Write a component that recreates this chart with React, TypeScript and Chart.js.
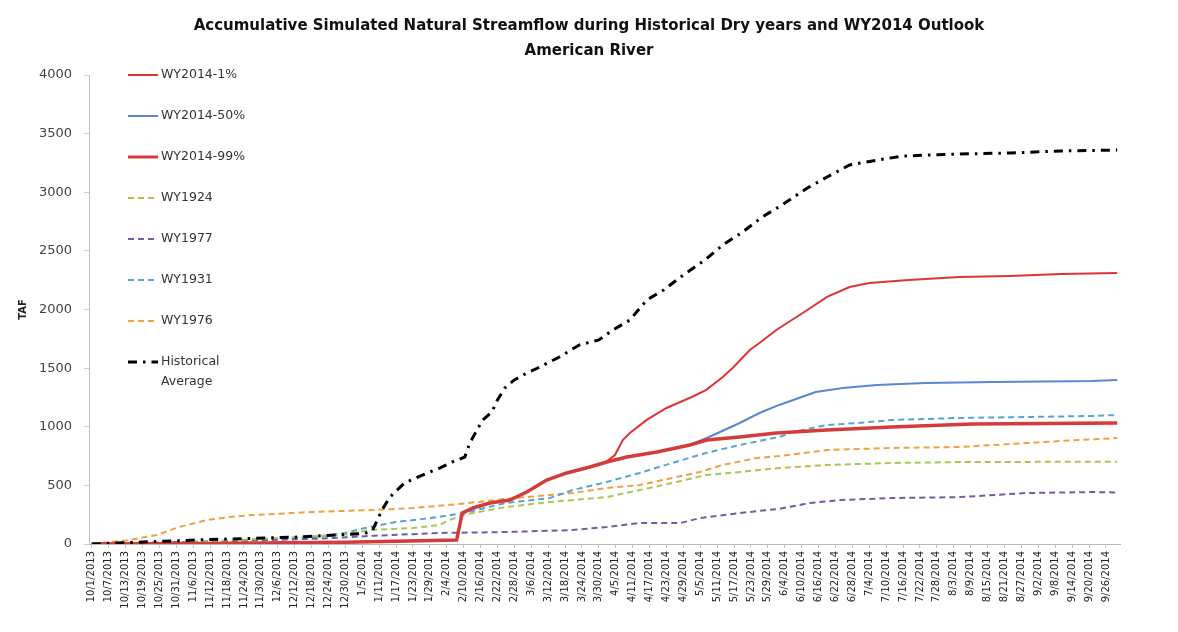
import React, { useEffect, useRef } from "react";
import { Chart, registerables } from "chart.js";

Chart.register(...registerables);

// Tick labels (every 6 days, day index = position * 6)
const DATE_LABELS = [
  "10/1/2013","10/7/2013","10/13/2013","10/19/2013","10/25/2013","10/31/2013",
  "11/6/2013","11/12/2013","11/18/2013","11/24/2013","11/30/2013",
  "12/6/2013","12/12/2013","12/18/2013","12/24/2013","12/30/2013",
  "1/5/2014","1/11/2014","1/17/2014","1/23/2014","1/29/2014",
  "2/4/2014","2/10/2014","2/16/2014","2/22/2014","2/28/2014",
  "3/6/2014","3/12/2014","3/18/2014","3/24/2014","3/30/2014",
  "4/5/2014","4/11/2014","4/17/2014","4/23/2014","4/29/2014",
  "5/5/2014","5/11/2014","5/17/2014","5/23/2014","5/29/2014",
  "6/4/2014","6/10/2014","6/16/2014","6/22/2014","6/28/2014",
  "7/4/2014","7/10/2014","7/16/2014","7/22/2014","7/28/2014",
  "8/3/2014","8/9/2014","8/15/2014","8/21/2014","8/27/2014",
  "9/2/2014","9/8/2014","9/14/2014","9/20/2014","9/26/2014",
];
const LABEL_STEP_DAYS = 6;

const Y_TICKS = [0, 500, 1000, 1500, 2000, 2500, 3000, 3500, 4000];

// Series: [day of water year (0 = 10/1/2013), accumulated TAF]
const WY2014_1: [number, number][] = [
  [0,0],[40,5],[90,15],[129.5,34],[131.5,264],[135.3,307],[141.3,350],[148.4,375],[154.4,443],
  [161.5,546],[168.6,606],[176.8,657],[182,690],[185.7,759],[188.5,887],[191,947],[197,1058],
  [204,1160],[213,1254],[218,1313],[224,1424],[227.5,1501],[233.6,1655],[237,1714],[243,1825],
  [254,1996],[261,2107],[269,2192],[276,2226],[290,2252],[308,2277],[326,2286],[344,2303],[364,2311],
];
const WY2014_50: [number, number][] = [
  [0,0],[40,5],[90,15],[129.5,34],[131.5,264],[135.3,307],[141.3,350],[148.4,375],[154.4,443],
  [161.5,546],[168.6,606],[176.8,657],[182.8,699],[189.9,742],[200.6,785],[212.3,844],[218.3,904],
  [230,1032],[237,1117],[244,1186],[249,1228],[257,1296],[266.6,1330],[278.7,1356],[296,1373],
  [320,1382],[355,1390],[364,1399],
];
const WY2014_99: [number, number][] = [
  [0,0],[40,5],[90,15],[129.5,34],[131.5,264],[135.3,307],[141.3,350],[148.4,375],[154.4,443],
  [161.5,546],[168.6,606],[176.8,657],[182.8,699],[189.9,742],[200.6,785],[212.3,844],[218.3,887],
  [230,913],[243,947],[261,972],[284,998],[312.7,1023],[364,1032],
];
const WY1924: [number, number][] = [
  [0,0],[30,10],[56,40],[90,80],[99,120],[114,136],[123.5,162],[127,205],[133,255],[147,315],
  [162.6,358],[182.8,400],[194.5,460],[206,520],[218,588],[230,614],[237,631],[244,648],[261,674],
  [284,691],[308,699],[364,702],
];
const WY1977: [number, number][] = [
  [0,0],[40,20],[80,45],[100,70],[123.5,94],[147,102],[170.7,119],[182.8,145],[194.5,179],[209,179],
  [216,222],[230,264],[244,300],[255,350],[266,375],[284,392],[308,400],[332,435],[355,443],[364,440],
];
const WY1931: [number, number][] = [
  [0,0],[56,30],[80,60],[90,94],[97,136],[108,188],[120,220],[132,264],[147,350],[162.6,392],
  [170.7,460],[182.8,529],[194.5,606],[206,691],[218,776],[230,844],[244,913],[249,955],[261,1015],
  [272,1032],[284,1058],[308,1075],[332,1083],[355,1092],[364,1100],
];
const WY1976: [number, number][] = [
  [0,0],[13.5,34],[23,77],[31,145],[41,205],[49,230],[57,247],[78,273],[100,290],[114,307],
  [130,340],[147,385],[162.6,418],[170.7,435],[182.8,478],[194.5,503],[206,563],[215.8,614],
  [224,674],[236,733],[244,750],[261,802],[284,819],[308,827],[332,861],[350,887],[364,904],
];
const HIST_AVG: [number, number][] = [
  [0,0],[38,35],[74,60],[97,90],[99.7,119],[103,290],[105.8,400],[111,520],[119,605],[123.5,648],
  [128,700],[132.4,742],[134.2,861],[136.7,972],[138.8,1058],[142,1126],[144,1228],[146.6,1330],
  [150,1399],[154.4,1458],[158.3,1501],[166,1595],[173,1697],[180,1740],[185,1825],[191,1910],
  [197,2081],[203,2166],[209,2277],[217.6,2422],[224,2550],[231,2661],[238,2789],[245,2891],
  [254,3036],[261,3130],[269,3232],[279,3275],[288,3309],[298,3318],[308,3326],[326,3335],
  [344,3352],[364,3360],
];

const SERIES_NAMES: (string | string[])[] = [
  "WY2014-1%", "WY2014-50%", "WY2014-99%", "WY1924", "WY1977", "WY1931", "WY1976",
  ["Historical", "Average"],
];

const FONT = "'DejaVu Sans', sans-serif";

const toPts = (arr: [number, number][]) => arr.map(([x, y]) => ({ x, y }));

const insideLegend = {
  id: "insideLegend",
  afterDraw(chart: any) {
    const { ctx, chartArea } = chart;
    const ds = chart.data.datasets;
    ctx.save();
    ds.forEach((d: any, i: number) => {
      const y = chartArea.top + i * 41;
      const x0 = chartArea.left + 39;
      const x1 = chartArea.left + 69;
      ctx.beginPath();
      ctx.strokeStyle = d.borderColor;
      ctx.lineWidth = Math.min(d.borderWidth, 3);
      ctx.setLineDash(d.borderDash || []);
      ctx.moveTo(x0, y);
      ctx.lineTo(x1, y);
      ctx.stroke();
      ctx.setLineDash([]);
      ctx.fillStyle = "#333";
      ctx.font = `12.5px ${FONT}`;
      ctx.textBaseline = "middle";
      ctx.textAlign = "left";
      const nm = SERIES_NAMES[i];
      const names = Array.isArray(nm) ? nm : [nm];
      names.forEach((t: string, k: number) => ctx.fillText(t, x1 + 3, y + k * 20));
    });
    ctx.restore();
  },
};

export default function App() {
  const ref = useRef<HTMLCanvasElement | null>(null);
  useEffect(() => {
    if (!ref.current) return;
    const dashed = [6, 4];
    const chart = new Chart(ref.current, {
      type: "line",
      data: {
        datasets: [
          { label: "WY2014-1%", data: toPts(WY2014_1), borderColor: "#e03434", borderWidth: 2, order: 2 },
          { label: "WY2014-50%", data: toPts(WY2014_50), borderColor: "#5a86d4", borderWidth: 2, order: 3 },
          { label: "WY2014-99%", data: toPts(WY2014_99), borderColor: "#d43c3c", borderWidth: 3.5, order: 1 },
          { label: "WY1924", data: toPts(WY1924), borderColor: "#a6c850", borderWidth: 2, borderDash: dashed, order: 4 },
          { label: "WY1977", data: toPts(WY1977), borderColor: "#6e5ea6", borderWidth: 2, borderDash: dashed, order: 5 },
          { label: "WY1931", data: toPts(WY1931), borderColor: "#56a4d0", borderWidth: 2, borderDash: dashed, order: 6 },
          { label: "WY1976", data: toPts(WY1976), borderColor: "#f0a040", borderWidth: 2, borderDash: dashed, order: 7 },
          { label: "Historical Average", data: toPts(HIST_AVG), borderColor: "#000000", borderWidth: 3, borderDash: [9, 6, 2.5, 6], order: 0 },
        ] as any,
      },
      options: {
        animation: false,
        responsive: false,
        devicePixelRatio: 1,
        layout: { padding: { left: 0, right: 0, top: 0, bottom: 0 } },
        elements: { point: { radius: 0 }, line: { tension: 0, fill: false } },
        plugins: {
          legend: { display: false },
          tooltip: { enabled: false },
          title: {
            display: true,
            text: [
              "Accumulative Simulated Natural Streamflow during Historical Dry years and WY2014 Outlook",
              "American River",
            ],
            color: "#111",
            font: { family: FONT, size: 15, weight: "bold", lineHeight: 25 / 15 },
            padding: { top: 14, bottom: 11 },
          },
        },
        scales: {
          x: {
            type: "linear",
            min: -1,
            max: 365,
            afterBuildTicks: (axis: any) => {
              axis.ticks = DATE_LABELS.map((_, i) => ({ value: i * LABEL_STEP_DAYS }));
            },
            afterFit: (s: any) => { s.height = 88; },
            ticks: {
              autoSkip: false,
              maxRotation: 90,
              minRotation: 90,
              padding: 3,
              color: "#222",
              font: { family: FONT, size: 10 },
              callback: (_v: any, i: number) => DATE_LABELS[i],
            },
            grid: { display: true, drawOnChartArea: false, tickLength: 4, color: "#c8c8c8" },
            border: { display: true, color: "#b8b8b8" },
          },
          y: {
            type: "linear",
            min: 0,
            max: 4000,
            afterBuildTicks: (axis: any) => {
              axis.ticks = Y_TICKS.map((v) => ({ value: v }));
            },
            afterFit: (s: any) => { s.width = 89; },
            ticks: {
              padding: 12,
              color: "#444",
              font: { family: FONT, size: 13 },
              callback: (v: any) => String(v),
            },
            grid: { display: true, drawOnChartArea: false, tickLength: 5, color: "#d0d0d0" },
            border: { display: true, color: "#c0c0c0" },
            title: {
              display: true,
              text: "TAF",
              color: "#222",
              font: { family: FONT, size: 10, weight: "bold" },
              padding: { top: 17, bottom: 0 },
            },
          },
          yR: {
            type: "linear",
            position: "right",
            display: true,
            min: 0,
            max: 1,
            ticks: { display: false },
            grid: { display: false, drawTicks: false },
            border: { display: false },
            afterFit: (s: any) => { s.width = 58; },
          },
        },
      } as any,
      plugins: [insideLegend],
    });
    return () => chart.destroy();
  }, []);
  return (
    <div style={{ position: "absolute", left: 0, top: 0, width: 1178, height: 632, background: "#fff" }}>
      <canvas ref={ref} width={1178} height={632} />
    </div>
  );
}
